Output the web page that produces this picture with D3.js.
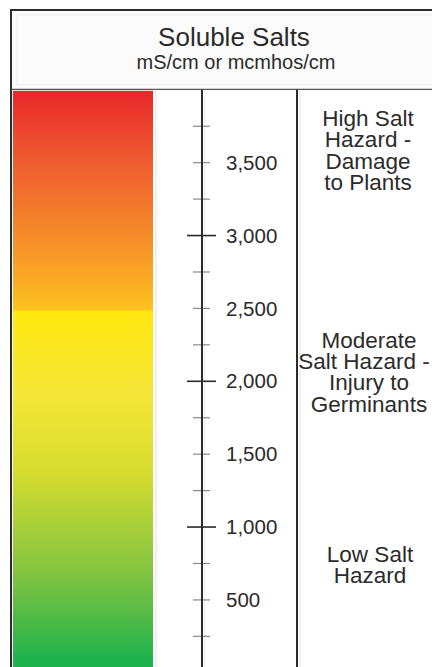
<!DOCTYPE html>
<html>
<head>
<meta charset="utf-8">
<script src="https://cdn.jsdelivr.net/npm/d3@7/dist/d3.min.js"></script>
<style>
  html, body { margin: 0; padding: 0; background: #ffffff; }
  svg { display: block; }
  text { font-family: "Liberation Sans", Arial, Helvetica, sans-serif; fill: #2b2b2b; }
</style>
</head>
<body>
<svg id="chart" width="432" height="667"></svg>
<script>
// Conductivity scale, mS/cm or mcmhos/cm
const scaleDomain = [0, 4000];
const majorTicks = [1000, 2000, 3000];
const minorTicks = [250, 500, 750, 1250, 1500, 1750, 2250, 2500, 2750, 3250, 3500, 3750];
const labelTicks = [500, 1000, 1500, 2000, 2500, 3000, 3500];

// Colour ramp along the scale (value, colour)
const rampValues = [4000, 3980, 3530, 3080, 2740, 2490, 2480, 1940, 1380, 1040, 700, 350, 100, 0];
const rampColors = ["#e8272a", "#e8282a", "#ee5a30", "#f4842a", "#f9a626", "#fcc31e", "#ffe80f",
                    "#f6e737", "#d6dd30", "#acd039", "#84c541", "#4cb947", "#1fb34d", "#1db34e"];

// Hazard notes in the right-hand column
const highLines = ["High Salt", "Hazard -", "Damage", "to Plants"];
const moderateLines = ["Moderate", "Salt Hazard -", "Injury to", "Germinants"];
const lowLines = ["Low Salt", "Hazard"];

const titleText = "Soluble Salts";
const unitText = "mS/cm or mcmhos/cm";

const svg = d3.select("#chart");
const W = 432, H = 667;

const y = d3.scaleLinear().domain(scaleDomain).range([672.8, 89.8]);

const frameLeft = 11, frameTop = 10;
const barLeft = 13, barRight = 153;
const axisX = 202;
const dividerX = 297;

// gradient definition
const defs = svg.append("defs");
const grad = defs.append("linearGradient")
  .attr("id", "saltRamp")
  .attr("gradientUnits", "userSpaceOnUse")
  .attr("x1", 0).attr("x2", 0)
  .attr("y1", y(scaleDomain[1])).attr("y2", y(scaleDomain[0]));
rampValues.forEach((v, i) => {
  grad.append("stop")
    .attr("offset", (scaleDomain[1] - v) / (scaleDomain[1] - scaleDomain[0]))
    .attr("stop-color", rampColors[i]);
});

// header panel
svg.append("rect")
  .attr("x", frameLeft).attr("y", frameTop)
  .attr("width", W + 40).attr("height", y(scaleDomain[1]) - frameTop)
  .attr("fill", "#fbfbfb")
  .attr("stroke", "#2b2b2b").attr("stroke-width", 2);
svg.append("rect")
  .attr("x", frameLeft + 6).attr("y", frameTop + 5)
  .attr("width", W + 20).attr("height", y(scaleDomain[1]) - frameTop - 10)
  .attr("fill", "none")
  .attr("stroke", "#ececec").attr("stroke-width", 1);

svg.append("text")
  .attr("x", 234).attr("y", 46)
  .attr("text-anchor", "middle")
  .style("font-size", "26px")
  .text(titleText);
svg.append("text")
  .attr("x", 236).attr("y", 69)
  .attr("text-anchor", "middle")
  .style("font-size", "20px")
  .text(unitText);

// body background
svg.append("rect")
  .attr("x", frameLeft).attr("y", y(scaleDomain[1]))
  .attr("width", W).attr("height", H - y(scaleDomain[1]))
  .attr("fill", "#ffffff");

// colour bar
svg.append("rect")
  .attr("x", barLeft)
  .attr("y", y(scaleDomain[1]) + 1)
  .attr("width", barRight - barLeft)
  .attr("height", y(scaleDomain[0]) - y(scaleDomain[1]))
  .attr("fill", "url(#saltRamp)");

// faint column guides
[156, 300].forEach(x => {
  svg.append("line")
    .attr("x1", x).attr("x2", x)
    .attr("y1", y(scaleDomain[1])).attr("y2", H)
    .attr("stroke", "#e2e2e2").attr("stroke-width", 1);
});
svg.append("line")
  .attr("x1", axisX + 3).attr("x2", axisX + 3)
  .attr("y1", y(scaleDomain[1])).attr("y2", H)
  .attr("stroke", "#ededed").attr("stroke-width", 1);

// frame lines in the body
svg.append("line")
  .attr("x1", frameLeft).attr("x2", frameLeft)
  .attr("y1", y(scaleDomain[1])).attr("y2", H)
  .attr("stroke", "#2b2b2b").attr("stroke-width", 2);
svg.append("line")
  .attr("x1", dividerX).attr("x2", dividerX)
  .attr("y1", y(scaleDomain[1])).attr("y2", H)
  .attr("stroke", "#2b2b2b").attr("stroke-width", 2);

// minor ticks
svg.append("g")
  .selectAll("line")
  .data(minorTicks)
  .join("line")
  .attr("x1", axisX - 9).attr("x2", axisX + 8)
  .attr("y1", d => y(d)).attr("y2", d => y(d))
  .attr("stroke", "#8a8a8a").attr("stroke-width", 1.2);

// major ticks
svg.append("g")
  .selectAll("line")
  .data(majorTicks)
  .join("line")
  .attr("x1", axisX - 15).attr("x2", axisX + 14)
  .attr("y1", d => y(d)).attr("y2", d => y(d))
  .attr("stroke", "#2b2b2b").attr("stroke-width", 1.6);

// axis spine
svg.append("line")
  .attr("x1", axisX).attr("x2", axisX)
  .attr("y1", y(scaleDomain[1])).attr("y2", H)
  .attr("stroke", "#2b2b2b").attr("stroke-width", 2);

// tick labels
const fmt = d3.format(",");
svg.append("g")
  .selectAll("text")
  .data(labelTicks)
  .join("text")
  .attr("x", 226)
  .attr("y", d => y(d))
  .attr("dy", "0.35em")
  .style("font-size", "20.5px")
  .text(d => fmt(d));

// hazard notes
function noteBlock(lines, cx, firstBaseline, step, offsets) {
  const t = svg.append("text")
    .attr("text-anchor", "middle")
    .style("font-size", "22.5px");
  lines.forEach((line, i) => {
    t.append("tspan")
      .attr("x", cx + (offsets ? offsets[i] : 0))
      .attr("y", firstBaseline + i * step)
      .text(line);
  });
}
noteBlock(highLines, 368, 126, 21.4);
noteBlock(moderateLines, 369, 347.5, 21.4, [0, -5, 0, 0]);
noteBlock(lowLines, 370, 562, 21.4);
</script>
</body>
</html>
